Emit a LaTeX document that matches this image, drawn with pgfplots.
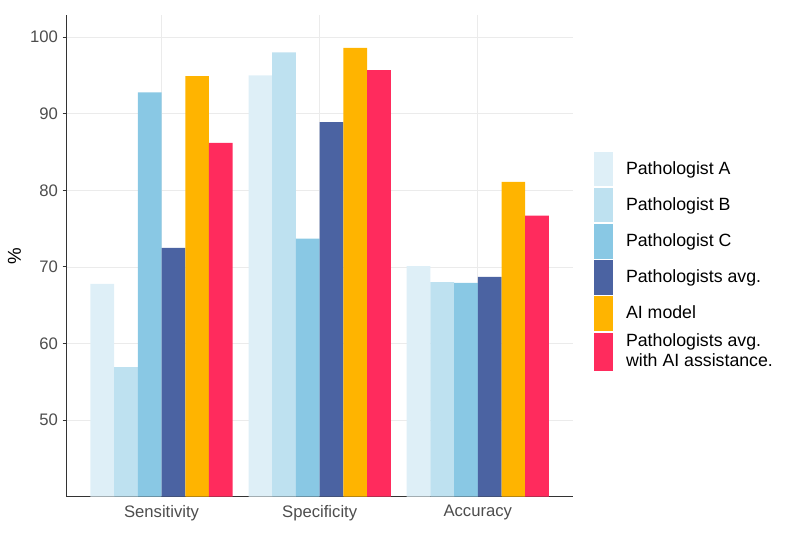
\documentclass[border=0pt]{standalone}
\usepackage{pgfplots}
\pgfplotsset{compat=1.18}
\usepackage{fontspec}
\setmainfont{Liberation Sans}
\definecolor{cA}{HTML}{DEEFF7}
\definecolor{cB}{HTML}{BEE1F0}
\definecolor{cC}{HTML}{89C8E4}
\definecolor{cD}{HTML}{4B63A2}
\definecolor{cE}{HTML}{FFB400}
\definecolor{cF}{HTML}{FF2B5D}
\definecolor{gridc}{HTML}{EBEBEB}
\definecolor{tickc}{HTML}{4D4D4D}
\pgfplotsset{
  bigkey/.style={legend image code/.code={\fill[##1, draw=white, line width=0.6pt] (0pt,-14.6pt) rectangle (15pt,14.6pt);}}
}
\begin{document}
\begin{tikzpicture}
\useasboundingbox (0,0) rectangle (588.75pt,402pt);
\begin{axis}[
  at={(50pt,29.5pt)}, anchor=south west,
  scale only axis, width=379.5pt, height=361.3pt,
  xmin=-0.6, xmax=2.6, ymin=40, ymax=102.9,
  ybar=0pt, bar width=0.15,
  xtick={0,1,2}, xticklabels={Sensitivity,Specificity,Accuracy},
  ytick={50,60,70,80,90,100},
  axis lines*=left,
  axis line style={line width=0.9pt, color=black!80},
  grid=major, grid style={color=gridc, line width=0.6pt},
  tick align=outside, major tick length=3pt,
  x tick style={draw=none},
  y tick style={line width=0.8pt, color=black!80},
  tick label style={font=\fontsize{12.5}{14}\selectfont, text=tickc},
  /pgf/number format/assume math mode=true,
  ylabel={\%}, ylabel style={font=\fontsize{14}{16}\selectfont, text=black},
  legend cell align=left,
  legend style={at={(1.0407,0.489)}, anchor=west, draw=none, fill=none,
    inner sep=0pt, outer sep=0pt, row sep=0pt, column sep=9pt,
    font=\fontsize{13.3}{15}\selectfont,
    nodes={align=left, inner sep=0pt}},
  legend image code/.code={\fill[#1, draw=white, line width=0.6pt] (0pt,-13.25pt) rectangle (15pt,13.25pt);},
]
\addplot[fill=cA, draw=none, bar shift=-0.375] coordinates {(0,67.8) (1,95.0) (2,70.1)};
\addlegendentry{Pathologist A}
\addplot[fill=cB, draw=none, bar shift=-0.225] coordinates {(0,56.9) (1,98.0) (2,68.0)};
\addlegendentry{Pathologist B}
\addplot[fill=cC, draw=none, bar shift=-0.075] coordinates {(0,92.8) (1,73.7) (2,67.9)};
\addlegendentry{Pathologist C}
\addplot[fill=cD, draw=none, bar shift=0.075] coordinates {(0,72.5) (1,88.9) (2,68.7)};
\addlegendentry{Pathologists avg.}
\addplot[fill=cE, draw=none, bar shift=0.225] coordinates {(0,94.9) (1,98.6) (2,81.1)};
\addlegendentry{AI model}
\addplot[fill=cF, draw=none, bar shift=0.375, bigkey] coordinates {(0,86.2) (1,95.7) (2,76.7)};
\addlegendentry{Pathologists avg.\\with AI assistance.}
\end{axis}
\end{tikzpicture}
\end{document}
